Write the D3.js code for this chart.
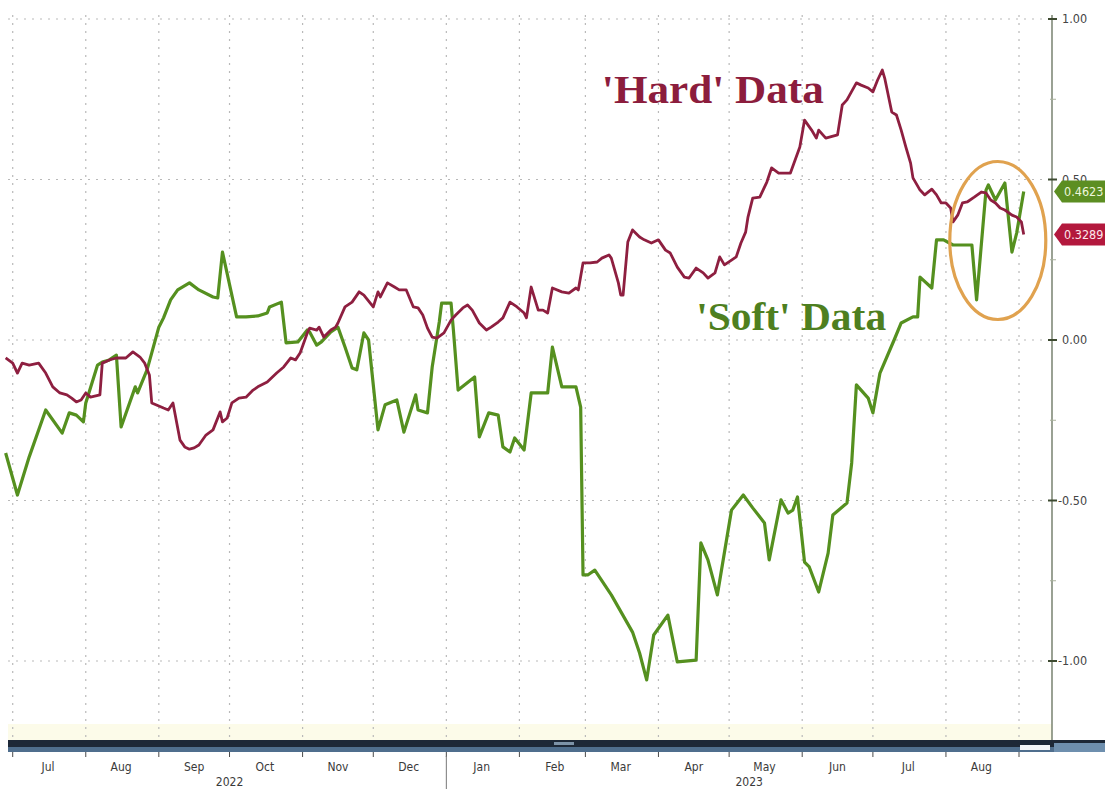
<!DOCTYPE html>
<html>
<head>
<meta charset="utf-8">
<script src="https://cdn.jsdelivr.net/npm/d3@7"></script>
<style>
  body { margin: 0; background: #ffffff; }
  svg { display: block; }
</style>
</head>
<body>
<svg id="chart" width="1105" height="789"></svg>
<script>
// 'Hard' economic data surprise index: [date, value]
const hardSeries = [
  ["2022-06-28",-0.056],["2022-07-01",-0.072],["2022-07-03",-0.103],["2022-07-05",-0.072],["2022-07-08",-0.078],
  ["2022-07-12",-0.072],["2022-07-15",-0.103],["2022-07-18",-0.146],["2022-07-21",-0.165],["2022-07-24",-0.171],
  ["2022-07-26",-0.181],["2022-07-28",-0.193],["2022-07-30",-0.187],["2022-08-01",-0.165],["2022-08-03",-0.178],
  ["2022-08-07",-0.171],["2022-08-08",-0.072],["2022-08-09",-0.069],["2022-08-11",-0.062],["2022-08-14",-0.056],
  ["2022-08-18",-0.056],["2022-08-21",-0.037],["2022-08-24",-0.053],["2022-08-26",-0.072],["2022-08-28",-0.109],
  ["2022-08-29",-0.196],["2022-09-03",-0.212],["2022-09-05",-0.218],["2022-09-07",-0.196],["2022-09-10",-0.312],
  ["2022-09-12",-0.333],["2022-09-14",-0.340],["2022-09-16",-0.336],["2022-09-18",-0.327],["2022-09-21",-0.296],
  ["2022-09-24",-0.280],["2022-09-27",-0.224],["2022-09-28",-0.255],["2022-09-30",-0.243],["2022-10-02",-0.196],
  ["2022-10-05",-0.181],["2022-10-08",-0.178],["2022-10-11",-0.156],["2022-10-13",-0.146],["2022-10-17",-0.131],
  ["2022-10-21",-0.103],["2022-10-24",-0.084],["2022-10-27",-0.056],["2022-10-29",-0.062],["2022-10-31",-0.040],
  ["2022-11-03",0.022],["2022-11-04",0.037],["2022-11-07",0.031],["2022-11-08",0.040],["2022-11-10",0.009],
  ["2022-11-13",0.031],["2022-11-15",0.040],["2022-11-16",0.053],["2022-11-19",0.103],["2022-11-22",0.118],
  ["2022-11-25",0.150],["2022-11-27",0.140],["2022-12-01",0.103],["2022-12-03",0.150],["2022-12-04",0.134],
  ["2022-12-07",0.178],["2022-12-10",0.165],["2022-12-12",0.156],["2022-12-15",0.156],["2022-12-18",0.103],
  ["2022-12-20",0.100],["2022-12-22",0.078],["2022-12-24",0.037],["2022-12-26",0.009],["2022-12-28",0.006],
  ["2022-12-31",0.022],["2023-01-03",0.062],["2023-01-05",0.078],["2023-01-08",0.100],["2023-01-10",0.109],
  ["2023-01-12",0.093],["2023-01-15",0.053],["2023-01-18",0.031],["2023-01-20",0.040],["2023-01-23",0.056],
  ["2023-01-25",0.069],["2023-01-28",0.118],["2023-01-31",0.103],["2023-02-03",0.084],["2023-02-04",0.069],
  ["2023-02-06",0.165],["2023-02-09",0.093],["2023-02-11",0.093],["2023-02-13",0.084],["2023-02-15",0.162],
  ["2023-02-19",0.150],["2023-02-22",0.146],["2023-02-25",0.162],["2023-02-26",0.156],["2023-02-28",0.240],
  ["2023-03-03",0.240],["2023-03-06",0.243],["2023-03-08",0.255],["2023-03-11",0.265],["2023-03-12",0.255],
  ["2023-03-15",0.178],["2023-03-16",0.140],["2023-03-17",0.140],["2023-03-19",0.305],["2023-03-21",0.343],
  ["2023-03-24",0.321],["2023-03-26",0.312],["2023-03-29",0.302],["2023-04-01",0.312],["2023-04-04",0.280],
  ["2023-04-06",0.271],["2023-04-09",0.227],["2023-04-12",0.196],["2023-04-14",0.193],["2023-04-17",0.224],
  ["2023-04-20",0.209],["2023-04-22",0.193],["2023-04-25",0.209],["2023-04-27",0.259],["2023-04-29",0.234],
  ["2023-05-02",0.249],["2023-05-04",0.259],["2023-05-06",0.302],["2023-05-08",0.336],["2023-05-09",0.383],
  ["2023-05-11",0.442],["2023-05-14",0.445],["2023-05-17",0.492],["2023-05-19",0.536],["2023-05-22",0.520],
  ["2023-05-27",0.520],["2023-05-31",0.601],["2023-06-02",0.685],["2023-06-05",0.654],["2023-06-07",0.629],
  ["2023-06-08",0.654],["2023-06-11",0.629],["2023-06-16",0.639],["2023-06-18",0.732],["2023-06-20",0.748],
  ["2023-06-24",0.801],["2023-06-26",0.794],["2023-06-29",0.785],["2023-07-01",0.773],["2023-07-03",0.810],
  ["2023-07-05",0.841],["2023-07-06",0.816],["2023-07-09",0.710],["2023-07-11",0.701],["2023-07-13",0.654],
  ["2023-07-15",0.601],["2023-07-17",0.551],["2023-07-18",0.505],["2023-07-21",0.467],["2023-07-23",0.452],
  ["2023-07-26",0.470],["2023-07-28",0.452],["2023-07-30",0.427],["2023-08-01",0.427],["2023-08-03",0.411],
  ["2023-08-04",0.368],["2023-08-06",0.389],["2023-08-08",0.427],["2023-08-10",0.430],["2023-08-13",0.445],
  ["2023-08-16",0.461],["2023-08-18",0.458],["2023-08-20",0.436],["2023-08-22",0.427],["2023-08-24",0.411],
  ["2023-08-26",0.405],["2023-08-29",0.389],["2023-08-31",0.383],["2023-09-02",0.368],["2023-09-03",0.3289]
];

// 'Soft' (survey) data surprise index: [date, value]
const softSeries = [
  ["2022-06-28",-0.352],["2022-07-03",-0.483],["2022-07-08",-0.364],["2022-07-15",-0.218],["2022-07-22",-0.290],
  ["2022-07-25",-0.227],["2022-07-28",-0.234],["2022-07-31",-0.255],["2022-08-01",-0.196],["2022-08-06",-0.078],
  ["2022-08-08",-0.069],["2022-08-11",-0.062],["2022-08-14",-0.047],["2022-08-16",-0.271],["2022-08-22",-0.146],
  ["2022-08-23",-0.165],["2022-08-27",-0.093],["2022-08-29",-0.040],["2022-09-01",0.040],["2022-09-03",0.069],
  ["2022-09-06",0.125],["2022-09-09",0.156],["2022-09-14",0.178],["2022-09-18",0.156],["2022-09-24",0.134],
  ["2022-09-26",0.131],["2022-09-28",0.274],["2022-10-04",0.072],["2022-10-08",0.072],["2022-10-13",0.075],
  ["2022-10-17",0.084],["2022-10-18",0.103],["2022-10-23",0.118],["2022-10-25",-0.009],["2022-10-30",-0.006],
  ["2022-11-03",0.031],["2022-11-04",0.025],["2022-11-07",-0.016],["2022-11-09",-0.006],["2022-11-13",0.025],
  ["2022-11-16",0.040],["2022-11-19",-0.022],["2022-11-22",-0.087],["2022-11-24",-0.093],["2022-11-27",0.022],
  ["2022-11-29",0.000],["2022-12-03",-0.280],["2022-12-06",-0.202],["2022-12-11",-0.187],["2022-12-14",-0.287],
  ["2022-12-19",-0.171],["2022-12-20",-0.218],["2022-12-24",-0.227],["2022-12-26",-0.084],["2022-12-29",0.056],
  ["2022-12-30",0.115],["2023-01-03",0.115],["2023-01-04",0.031],["2023-01-06",-0.156],["2023-01-13",-0.115],
  ["2023-01-15",-0.302],["2023-01-19",-0.227],["2023-01-23",-0.234],["2023-01-25",-0.333],["2023-01-28",-0.349],
  ["2023-01-30",-0.305],["2023-02-03",-0.343],["2023-02-06",-0.165],["2023-02-13",-0.165],["2023-02-15",-0.022],
  ["2023-02-19",-0.146],["2023-02-25",-0.146],["2023-02-27",-0.209],["2023-02-28",-0.732],["2023-03-02",-0.732],
  ["2023-03-05",-0.717],["2023-03-12",-0.794],["2023-03-21",-0.910],["2023-03-24",-0.975],["2023-03-27",-1.059],
  ["2023-03-30",-0.919],["2023-04-05",-0.857],["2023-04-09",-1.003],["2023-04-17",-0.997],["2023-04-19",-0.632],
  ["2023-04-22",-0.685],["2023-04-26",-0.794],["2023-05-02",-0.530],["2023-05-07",-0.483],["2023-05-11",-0.523],
  ["2023-05-16",-0.570],["2023-05-18",-0.685],["2023-05-23",-0.498],["2023-05-26",-0.539],["2023-05-28",-0.530],
  ["2023-05-30",-0.489],["2023-06-02",-0.692],["2023-06-04",-0.707],["2023-06-08",-0.785],["2023-06-12",-0.664],
  ["2023-06-14",-0.545],["2023-06-20",-0.508],["2023-06-22",-0.383],["2023-06-24",-0.140],["2023-06-29",-0.181],
  ["2023-07-01",-0.227],["2023-07-04",-0.103],["2023-07-10",0.000],["2023-07-13",0.053],["2023-07-18",0.072],
  ["2023-07-20",0.072],["2023-07-21",0.196],["2023-07-26",0.162],["2023-07-28",0.312],["2023-07-31",0.312],
  ["2023-08-04",0.296],["2023-08-12",0.296],["2023-08-14",0.125],["2023-08-18",0.467],["2023-08-19",0.483],
  ["2023-08-22",0.436],["2023-08-26",0.489],["2023-08-29",0.274],["2023-08-31",0.333],["2023-09-03",0.4623]
];

const yTickValues = [1.0, 0.5, 0.0, -0.5, -1.0];
const yTickLabels = ["1.00", "0.50", "0.00", "-0.50", "-1.00"];
const yMinorValues = [0.75, 0.25, -0.25, -0.75];
const monthNames = ["Jul","Aug","Sep","Oct","Nov","Dec","Jan","Feb","Mar","Apr","May","Jun","Jul","Aug"];
const yearLabels = [["2022", "2022-07-01", "2023-01-01"], ["2023", "2023-01-01", "2023-09-15"]];
const seriesLabels = [
  { text: "'Hard' Data", color: "#8c1d3d", date: "2023-03-08", value: 0.738, width: 222 },
  { text: "'Soft' Data", color: "#4e7f1f", date: "2023-04-17", value: 0.032, width: 190 }
];
const lastValues = [
  { text: "0.4623", value: 0.4623, fill: "#5c8e22", color: "#eef7dc" },
  { text: "0.3289", value: 0.3289, fill: "#b3183d", color: "#fde7ec" }
];

const parse = d3.utcParse("%Y-%m-%d");
const W = 1105, H = 789;
const plotL = 8, plotR = 1052, plotT = 15, plotB = 740;

const x = d3.scaleUtc()
  .domain([parse("2022-06-29"), parse("2023-09-15")])
  .range([plotL, plotR]);
const y = d3.scaleLinear()
  .domain([-1, 1])
  .range([661, 19]);

const svg = d3.select("#chart");

// Plot background and pale strip along the bottom
svg.append("rect").attr("x", 0).attr("y", 0).attr("width", W).attr("height", H).attr("fill", "#ffffff");
svg.append("rect").attr("x", plotL).attr("y", 724).attr("width", plotR - plotL).attr("height", plotB - 724)
  .attr("fill", "#fcfbe9");

// Month-start dates used for gridlines and ticks
const monthStarts = d3.utcMonth.range(parse("2022-07-01"), parse("2023-09-02"));

// Vertical dotted gridlines
svg.append("g").selectAll("line").data(monthStarts).join("line")
  .attr("x1", d => x(d)).attr("x2", d => x(d))
  .attr("y1", plotT).attr("y2", plotB)
  .attr("stroke", "#b9b9b9").attr("stroke-width", 1.2)
  .attr("stroke-dasharray", "2,6");

// Horizontal dotted gridlines
svg.append("g").selectAll("line").data(yTickValues).join("line")
  .attr("x1", plotL).attr("x2", plotR)
  .attr("y1", d => y(d)).attr("y2", d => y(d))
  .attr("stroke", "#b9b9b9").attr("stroke-width", 1.2)
  .attr("stroke-dasharray", "2,6");

// Series lines
const line = d3.line()
  .x(d => x(parse(d[0])))
  .y(d => y(d[1]));

svg.append("path").datum(softSeries)
  .attr("d", line).attr("fill", "none")
  .attr("stroke", "#55901f").attr("stroke-width", 3.2)
  .attr("stroke-linejoin", "round");

svg.append("path").datum(hardSeries)
  .attr("d", line).attr("fill", "none")
  .attr("stroke", "#8e1f40").attr("stroke-width", 2.8)
  .attr("stroke-linejoin", "round");

// Series annotations
svg.append("g").selectAll("text").data(seriesLabels).join("text")
  .attr("x", d => x(parse(d.date)))
  .attr("y", d => y(d.value))
  .attr("fill", d => d.color)
  .attr("font-family", "'Liberation Serif', 'DejaVu Serif', serif")
  .attr("font-weight", "bold")
  .attr("font-size", 39)
  .attr("textLength", d => d.width)
  .attr("lengthAdjust", "spacingAndGlyphs")
  .text(d => d.text);

// Highlight ellipse around the latest readings
svg.append("ellipse")
  .attr("cx", x(parse("2023-08-23"))).attr("cy", y(0.31))
  .attr("rx", 48).attr("ry", 79)
  .attr("fill", "none").attr("stroke", "#e0a24f").attr("stroke-width", 3.2);

// Right value axis
svg.append("line")
  .attr("x1", plotR).attr("x2", plotR).attr("y1", plotT).attr("y2", plotB)
  .attr("stroke", "#6f7a66").attr("stroke-width", 1.4);

svg.append("g").selectAll("line").data(yTickValues).join("line")
  .attr("x1", plotR - 4).attr("x2", plotR + 5)
  .attr("y1", d => y(d)).attr("y2", d => y(d))
  .attr("stroke", "#3d4a30").attr("stroke-width", 2);

svg.append("g").selectAll("line").data(yMinorValues).join("line")
  .attr("x1", plotR - 2).attr("x2", plotR + 4)
  .attr("y1", d => y(d)).attr("y2", d => y(d))
  .attr("stroke", "#a9b19c").attr("stroke-width", 1);

svg.append("g").selectAll("text").data(yTickValues).join("text")
  .attr("x", d => d < 0 ? plotR + 6 : plotR + 10)
  .attr("y", d => y(d))
  .attr("dy", "0.35em")
  .attr("fill", "#454545")
  .attr("font-family", "'DejaVu Sans Condensed', 'Liberation Sans', sans-serif")
  .attr("font-size", 12.5)
  .text((d, i) => yTickLabels[i]);

// Last-value tags on the axis
const tags = svg.append("g").selectAll("g").data(lastValues).join("g")
  .attr("transform", d => `translate(${plotR + 2},${y(d.value)})`);
tags.append("path")
  .attr("d", "M0,0 L8,-11 L60,-11 L60,11 L8,11 Z")
  .attr("fill", d => d.fill);
tags.append("text")
  .attr("x", 10).attr("dy", "0.36em")
  .attr("fill", d => d.color)
  .attr("font-family", "'DejaVu Sans Condensed', 'Liberation Sans', sans-serif")
  .attr("font-size", 12.5)
  .text(d => d.text);

// Time navigator bar beneath the plot
svg.append("rect").attr("x", plotL).attr("y", plotB).attr("width", W - plotL).attr("height", 7).attr("fill", "#1d2837");
svg.append("rect").attr("x", plotL).attr("y", plotB + 7).attr("width", W - plotL).attr("height", 5).attr("fill", "#4f6e8d");
svg.append("rect").attr("x", 554).attr("y", plotB + 2).attr("width", 20).attr("height", 3).attr("fill", "#7d93a8");
svg.append("rect").attr("x", 1020).attr("y", plotB + 5).attr("width", 30).attr("height", 5).attr("fill", "#f4f6f8");
svg.append("rect").attr("x", plotR + 2).attr("y", plotB + 3).attr("width", W - plotR).attr("height", 9).attr("fill", "#6e8fae");

// Month ticks and labels
svg.append("g").selectAll("line").data(monthStarts).join("line")
  .attr("x1", d => x(d)).attr("x2", d => x(d))
  .attr("y1", plotB + 12).attr("y2", plotB + 17)
  .attr("stroke", "#4a4a4a").attr("stroke-width", 1);

svg.append("g").selectAll("text").data(monthStarts.slice(0, monthNames.length)).join("text")
  .attr("x", d => x(d3.utcDay.offset(d, 15)))
  .attr("y", 771)
  .attr("text-anchor", "middle")
  .attr("fill", "#3a3a3a")
  .attr("font-family", "'DejaVu Sans Condensed', 'Liberation Sans', sans-serif")
  .attr("font-size", 12)
  .text((d, i) => monthNames[i]);

// Year labels and separator
svg.append("g").selectAll("text").data(yearLabels).join("text")
  .attr("x", d => (x(parse(d[1])) + x(parse(d[2]))) / 2)
  .attr("y", 786)
  .attr("text-anchor", "middle")
  .attr("fill", "#3a3a3a")
  .attr("font-family", "'DejaVu Sans Condensed', 'Liberation Sans', sans-serif")
  .attr("font-size", 12)
  .text(d => d[0]);

svg.append("line")
  .attr("x1", x(parse("2023-01-01"))).attr("x2", x(parse("2023-01-01")))
  .attr("y1", plotB + 16).attr("y2", H)
  .attr("stroke", "#777").attr("stroke-width", 1);
</script>
</body>
</html>
